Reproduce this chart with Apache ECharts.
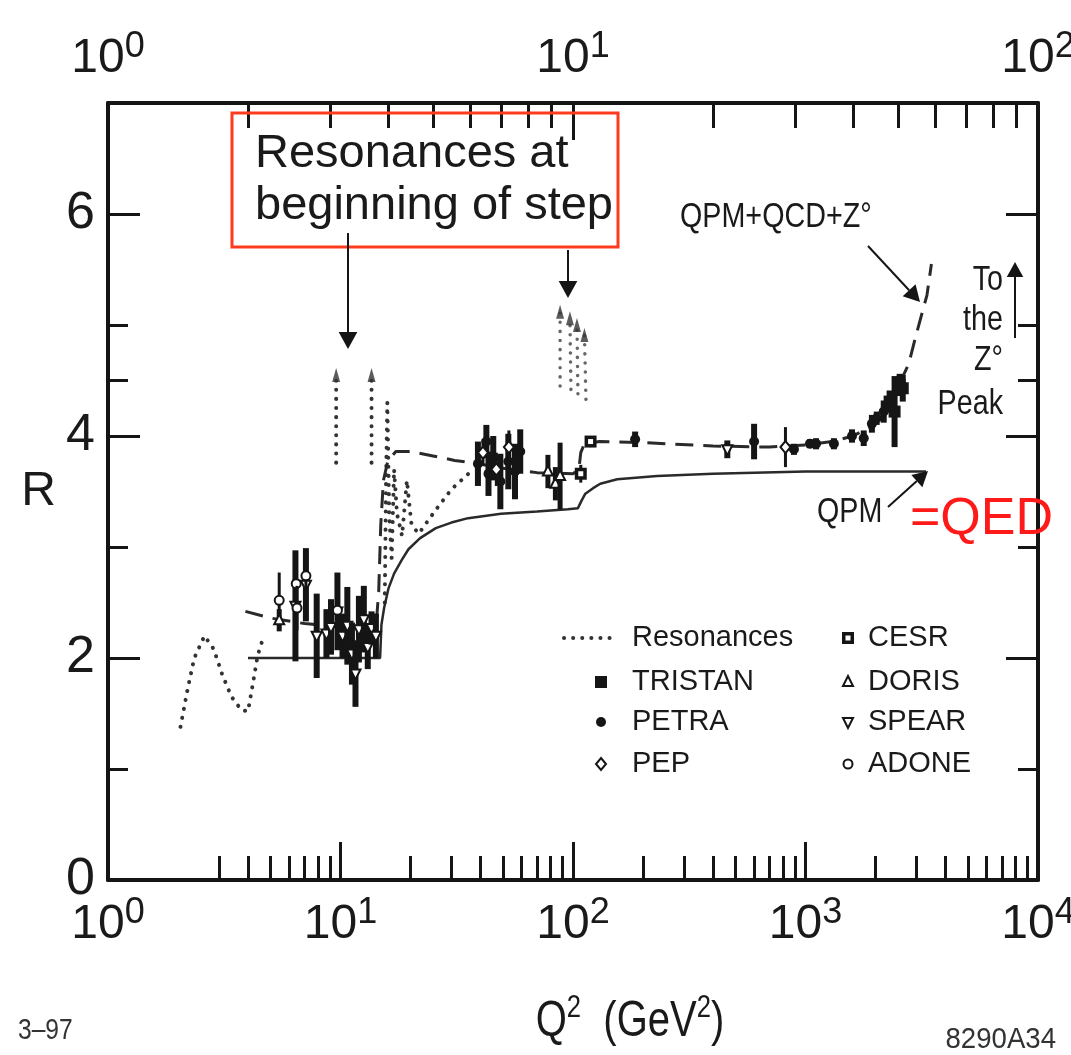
<!DOCTYPE html>
<html>
<head>
<meta charset="utf-8">
<script src="https://cdn.jsdelivr.net/npm/echarts@6.0.0/dist/echarts.min.js"></script>
<style>
html, body { margin: 0; padding: 0; background: #fff; }
#chart { width: 1071px; height: 1055px; }
</style>
</head>
<body>
<div id="chart"></div>
<script>
// tick positions
const q2MinorTicks = [3, 4, 5, 6, 7, 8, 9, 20, 30, 40, 50, 60, 70, 80, 90,
  200, 300, 400, 500, 600, 700, 800, 900, 2000, 3000, 4000, 5000, 6000, 7000, 8000, 9000];
const qMinorTicks = [2, 3, 4, 5, 6, 7, 8, 9, 20, 30, 40, 50, 60, 70, 80, 90];
const rMajorTicks = [2, 4, 6];
const rMinorTicks = [1, 3, 4.5, 5];
const rLabels = [0, 2, 4, 6];

// theory curves  [Q2, R]
const qpm = [[4, 2.0], [14.8, 2.0], [15.0, 2.3], [15.4, 2.45], [16.1, 2.63], [17, 2.76], [18.3, 2.88],
  [19.6, 2.98], [22, 3.08], [25.7, 3.17], [30, 3.22], [35.4, 3.26], [49, 3.3], [70, 3.32], [95, 3.34],
  [105, 3.35], [109, 3.42], [113, 3.48], [122, 3.53], [131, 3.57], [155, 3.61], [230, 3.64],
  [400, 3.66], [1000, 3.68], [3300, 3.68]];
const qcd = [[3.9, 2.42], [5, 2.36], [7, 2.31], [10, 2.28], [14.2, 2.27], [14.6, 2.6], [14.9, 3.2],
  [15.3, 3.6], [16, 3.78], [17.3, 3.86], [20, 3.86], [25, 3.82], [31, 3.78], [39, 3.75], [50, 3.71],
  [70, 3.67], [100, 3.66], [106, 3.7], [108, 3.85], [112, 3.93], [130, 3.95], [200, 3.94], [400, 3.91],
  [700, 3.9], [1000, 3.92], [1300, 3.95], [1600, 4.0], [1900, 4.08], [2200, 4.2], [2410, 4.37],
  [2780, 4.65], [2990, 4.91], [3330, 5.27], [3480, 5.55]];

// resonances (dotted)
const resLow = [[2.05, 1.38], [2.2, 1.72], [2.35, 2.0], [2.6, 2.2], [2.85, 2.08], [3.1, 1.85], [3.4, 1.65],
  [3.75, 1.53], [4.0, 1.52], [4.2, 1.77], [4.4, 2.02], [4.6, 2.15]];
const resPsi = [[9.58, 3.76], [9.58, 4.55]];
const resPsi2 = [[13.6, 3.76], [13.6, 4.55]];
const resCharm = [[15.5, 2.5], [15.7, 3.6], [15.9, 4.3], [16.2, 3.3], [16.6, 2.9], [17.0, 3.7], [17.5, 3.3],
  [18.4, 3.1], [19.3, 3.6], [20.2, 3.2], [21.7, 3.12], [25.6, 3.33], [30, 3.52], [35.5, 3.66]];
const resUps1 = [[88, 4.45], [88, 5.12]];
const resUps2 = [[98, 4.42], [97, 5.06]];
const resUps3 = [[105, 4.38], [104, 5.0]];
const resUps4 = [[113.7, 4.33], [112, 4.91]];

// measurements  [Q2, R, error]
const tristan = [[2300, 4.31, 0.1], [2416, 4.22, 0.32], [2540, 4.46, 0.1], [2620, 4.43, 0.12]];
const petra = [[39, 3.75, 0.2], [42.4, 3.95, 0.15], [43.3, 3.66, 0.2], [45.4, 3.8, 0.2], [48.7, 3.59, 0.25],
  [52.7, 3.77, 0.25], [56.3, 3.68, 0.25], [59.3, 3.86, 0.2], [185, 3.97, 0.07], [601, 3.95, 0.16],
  [892, 3.88, 0.05], [1045, 3.93, 0.04], [1110, 3.93, 0.05], [1325, 3.93, 0.05], [1585, 4.0, 0.06],
  [1780, 3.98, 0.07], [1930, 4.11, 0.08], [2024, 4.16, 0.06], [2170, 4.22, 0.1]];
const pep = [[41, 3.85, 0.12], [46.8, 3.7, 0.15], [53, 3.9, 0.15], [820, 3.9, 0.18]];
const cesr = [[108, 3.66, 0.08], [119, 3.95, 0.05]];
const doris = [[78, 3.68, 0.15], [84, 3.57, 0.15], [88, 3.64, 0.3], [5.45, 2.34, 0.1]];
const spear = [[6.4, 2.47, 0.5], [7.1, 2.66, 0.33], [7.9, 2.2, 0.38], [8.7, 2.22, 0.22], [9.1, 2.28, 0.25],
  [9.7, 2.42, 0.35], [10.2, 2.2, 0.2], [10.7, 2.29, 0.35], [11.2, 2.04, 0.28], [11.6, 1.86, 0.3],
  [12.0, 2.26, 0.3], [12.6, 2.35, 0.3], [13.1, 2.1, 0.2], [13.6, 2.27, 0.15], [14.2, 2.2, 0.2],
  [461, 3.88, 0.08]];
const adone = [[5.45, 2.52, 0.25], [6.45, 2.67, 0.28], [7.1, 2.74, 0.22], [6.5, 2.45, 0.2], [9.7, 2.43, 0.1]];

const INK = '#151515';
const SANS = "'Liberation Sans', Arial, sans-serif";
const NARROW = 0.82; // horizontal squeeze for the condensed lettering
const log10 = v => Math.log(v) / Math.LN10;

function marker(kind, x, y) {
  switch (kind) {
    case 'fsquare':
      return { type: 'rect', shape: { x: x - 6, y: y - 6, width: 12, height: 12 }, style: { fill: INK } };
    case 'fcircle':
      return { type: 'circle', shape: { cx: x, cy: y, r: 5 }, style: { fill: INK } };
    case 'diamond':
      return { type: 'polygon', shape: { points: [[x, y - 6], [x + 5, y], [x, y + 6], [x - 5, y]] },
        style: { fill: '#fff', stroke: INK, lineWidth: 2 } };
    case 'cesr':
      return { type: 'group', children: [
        { type: 'rect', shape: { x: x - 6, y: y - 6, width: 12, height: 12 }, style: { fill: INK } },
        { type: 'rect', shape: { x: x - 2.5, y: y - 2.5, width: 5, height: 5 }, style: { fill: '#fff' } }
      ] };
    case 'triangle':
      return { type: 'polygon', shape: { points: [[x, y - 6], [x + 5, y + 4], [x - 5, y + 4]] },
        style: { fill: '#fff', stroke: INK, lineWidth: 2 } };
    case 'itriangle':
      return { type: 'polygon', shape: { points: [[x - 5, y - 4], [x + 5, y - 4], [x, y + 6]] },
        style: { fill: '#fff', stroke: INK, lineWidth: 2 } };
    default:
      return { type: 'circle', shape: { cx: x, cy: y, r: 4.5 }, style: { fill: '#fff', stroke: INK, lineWidth: 2 } };
  }
}

function expSeries(name, pts, kind, barWidth) {
  return {
    type: 'custom', name: name, xAxisIndex: 0, yAxisIndex: 0, z: 5,
    encode: { x: 0, y: 1 },
    data: pts,
    renderItem: function (params, api) {
      const q = api.value(0), r = api.value(1), e = api.value(2);
      const p = api.coord([q, r]);
      const hi = api.coord([q, r + e]);
      const lo = api.coord([q, r - e]);
      return { type: 'group', children: [
        { type: 'line', shape: { x1: p[0], y1: hi[1], x2: p[0], y2: lo[1] }, style: { stroke: INK, lineWidth: barWidth } },
        marker(kind, p[0], p[1])
      ] };
    }
  };
}

function dotted(name, pts, color, width) {
  return {
    type: 'line', name: name, xAxisIndex: 0, yAxisIndex: 0, data: pts, symbol: 'none', z: 3,
    lineStyle: { color: color || '#333', width: width || 4, type: [0.1, 9], cap: 'round' }
  };
}

function expLabel(v) {
  return '{b|10}{e|' + Math.round(log10(v)) + '}';
}
const expRich = {
  b: { fontFamily: SANS, fontSize: 48, lineHeight: 48, padding: [12, 0, 0, 0], color: '#1a1a1a' },
  e: { fontFamily: SANS, fontSize: 36, lineHeight: 36, verticalAlign: 'top', color: '#1a1a1a' }
};
const frameLine = { show: true, onZero: false, lineStyle: { color: INK, width: 4 } };
const noLine = { show: false, onZero: false };
const noSplit = { show: false };

function minorAxis(pos, max, ticks, len) {
  return {
    type: 'value', position: pos, min: 0, max: max,
    axisLine: noLine, axisLabel: { show: false }, splitLine: noSplit,
    axisTick: { show: true, inside: true, length: len, customValues: ticks.map(log10),
      lineStyle: { color: INK, width: 3 } }
  };
}
function yAxisDef(pos, ticks, len, labels, line) {
  return {
    type: 'value', position: pos, min: 0, max: 7,
    axisLine: line ? frameLine : noLine, splitLine: noSplit,
    axisTick: { show: true, inside: true, length: len, customValues: ticks, lineStyle: { color: INK, width: 3 } },
    axisLabel: labels ? { show: true, customValues: labels, margin: 13, fontFamily: SANS, fontSize: 52, color: '#1a1a1a' }
      : { show: false }
  };
}

function arrow(x1, y1, x2, y2, head) {
  const a = Math.atan2(y2 - y1, x2 - x1);
  const h = head || 16, w = h * 0.55;
  const bx = x2 - h * Math.cos(a), by = y2 - h * Math.sin(a);
  const nx = -Math.sin(a) * w, ny = Math.cos(a) * w;
  return [
    { type: 'line', shape: { x1: x1, y1: y1, x2: bx, y2: by }, style: { stroke: INK, lineWidth: 2 }, z: 50 },
    { type: 'polygon', shape: { points: [[x2, y2], [bx + nx, by + ny], [bx - nx, by - ny]] }, style: { fill: INK }, z: 50 }
  ];
}
function txt(text, x, y, size, align, color, squeeze) {
  return { type: 'text', x: x, y: y, z: 60, scaleX: squeeze || 1,
    style: { text: text, font: size + 'px ' + SANS, fill: color || '#1a1a1a', textAlign: align || 'left', textVerticalAlign: 'middle' } };
}

const legendLeft = [['TRISTAN', 'fsquare'], ['PETRA', 'fcircle'], ['PEP', 'diamond']];
const legendRight = [['CESR', 'cesr'], ['DORIS', 'triangle'], ['SPEAR', 'itriangle'], ['ADONE', 'ocircle']];
const legendRows = [638, 682, 722, 764];

const graphics = [
  { type: 'rect', shape: { x: 232, y: 113, width: 386, height: 134 }, style: { fill: 'none', stroke: '#ff3b1e', lineWidth: 3 }, z: 40 },
  txt('Resonances at', 255, 154, 47),
  txt('beginning of step', 255, 206, 47),
  ...arrow(348, 233, 348, 349, 17),
  ...arrow(568, 250, 568, 298, 17),
  txt('QPM+QCD+Z°', 680, 217, 35, 'left', null, NARROW),
  ...arrow(868, 246, 920, 302, 16),
  txt('To', 1003, 280, 35, 'right', null, NARROW),
  txt('the', 1003, 320, 35, 'right', null, NARROW),
  txt('Z°', 1003, 360, 35, 'right', null, NARROW),
  txt('Peak', 1003, 404, 35, 'right', null, NARROW),
  ...arrow(1015, 338, 1015, 262, 15),
  txt('QPM', 817, 512, 35, 'left', null, NARROW),
  ...arrow(888, 507, 928, 471, 15),
  txt('=QED', 910, 520, 52, 'left', '#ff1a1a'),
  txt('3–97', 18, 1031, 30, 'left', '#333', NARROW),
  txt('8290A34', 1056, 1040, 30, 'right', '#333', 0.92),
  {
    type: 'text', x: 630, y: 1017, z: 60, scaleX: 0.8,
    style: {
      text: '{b|Q}{s|2}{b|  (GeV}{s|2}{b|)}', textAlign: 'center', textVerticalAlign: 'middle',
      rich: {
        b: { fontFamily: SANS, fontSize: 50, lineHeight: 50, padding: [10, 0, 0, 0], fill: '#1a1a1a' },
        s: { fontFamily: SANS, fontSize: 32, lineHeight: 32, verticalAlign: 'top', fill: '#1a1a1a' }
      }
    }
  },
  { type: 'line', shape: { x1: 564, y1: 638, x2: 612, y2: 638 }, z: 40,
    style: { stroke: '#333', lineWidth: 4, lineDash: [0.1, 9], lineCap: 'round' } },
  txt('Resonances', 632, 638, 29)
];
legendLeft.forEach((it, i) => {
  graphics.push(Object.assign(marker(it[1], 601, legendRows[i + 1]), { z: 40 }));
  graphics.push(txt(it[0], 632, legendRows[i + 1], 29));
});
legendRight.forEach((it, i) => {
  graphics.push(Object.assign(marker(it[1], 848, legendRows[i]), { z: 40 }));
  graphics.push(txt(it[0], 868, legendRows[i], 29));
});

const option = {
  animation: false,
  backgroundColor: '#fff',
  grid: { left: 108, right: 33, top: 103, bottom: 175, outerBoundsMode: 'none', containLabel: false },
  xAxis: [
    {
      type: 'log', logBase: 10, min: 1, max: 10000, position: 'bottom',
      axisLine: frameLine, splitLine: noSplit,
      axisTick: { show: true, inside: true, length: 38, lineStyle: { color: INK, width: 3 } },
      axisLabel: { margin: 15, formatter: expLabel, rich: expRich }
    },
    minorAxis('bottom', 4, q2MinorTicks, 24),
    {
      type: 'log', logBase: 10, min: 1, max: 100, position: 'top',
      axisLine: frameLine, splitLine: noSplit,
      axisTick: { show: true, inside: true, length: 37, lineStyle: { color: INK, width: 3 } },
      axisLabel: { margin: 26, formatter: expLabel, rich: expRich }
    },
    minorAxis('top', 2, qMinorTicks, 25)
  ],
  yAxis: [
    Object.assign(yAxisDef('left', rMajorTicks, 32, rLabels, true), {
      name: 'R', nameLocation: 'middle', nameRotate: 0, nameGap: 52,
      nameTextStyle: { fontFamily: SANS, fontSize: 48, color: '#1a1a1a' }
    }),
    yAxisDef('left', rMinorTicks, 20, null, false),
    yAxisDef('right', rMajorTicks, 32, null, true),
    yAxisDef('right', rMinorTicks, 20, null, false)
  ],
  series: [
    dotted('Resonances', resLow),
    dotted('psi', resPsi),
    dotted('psi2', resPsi2),
    dotted('charm', resCharm),
    dotted('ups1', resUps1, '#666', 3.5),
    dotted('ups2', resUps2, '#666', 3.5),
    dotted('ups3', resUps3, '#666', 3.5),
    dotted('ups4', resUps4, '#666', 3.5),
    {
      type: 'scatter', name: 'resonance peaks', xAxisIndex: 0, yAxisIndex: 0, z: 4,
      symbol: 'triangle', symbolSize: [8, 14], itemStyle: { color: '#333' },
      data: [resPsi, resPsi2, resUps1, resUps2, resUps3, resUps4].map(s => s[s.length - 1])
    },
    {
      type: 'line', name: 'QPM', xAxisIndex: 0, yAxisIndex: 0, data: qpm, symbol: 'none', z: 3,
      lineStyle: { color: '#2a2a2a', width: 2.5 }
    },
    {
      type: 'line', name: 'QPM+QCD+Z', xAxisIndex: 0, yAxisIndex: 0, data: qcd, symbol: 'none', z: 3,
      lineStyle: { color: '#2a2a2a', width: 3, type: [18, 10] }
    },
    expSeries('SPEAR', spear, 'itriangle', 6),
    expSeries('ADONE', adone, 'ocircle', 3),
    expSeries('DORIS', doris, 'triangle', 5),
    expSeries('PETRA', petra, 'fcircle', 6),
    expSeries('PEP', pep, 'diamond', 3),
    expSeries('CESR', cesr, 'cesr', 3),
    expSeries('TRISTAN', tristan, 'fsquare', 6)
  ],
  graphic: graphics
};

const chart = echarts.init(document.getElementById('chart'));
chart.setOption(option);
</script>
</body>
</html>
